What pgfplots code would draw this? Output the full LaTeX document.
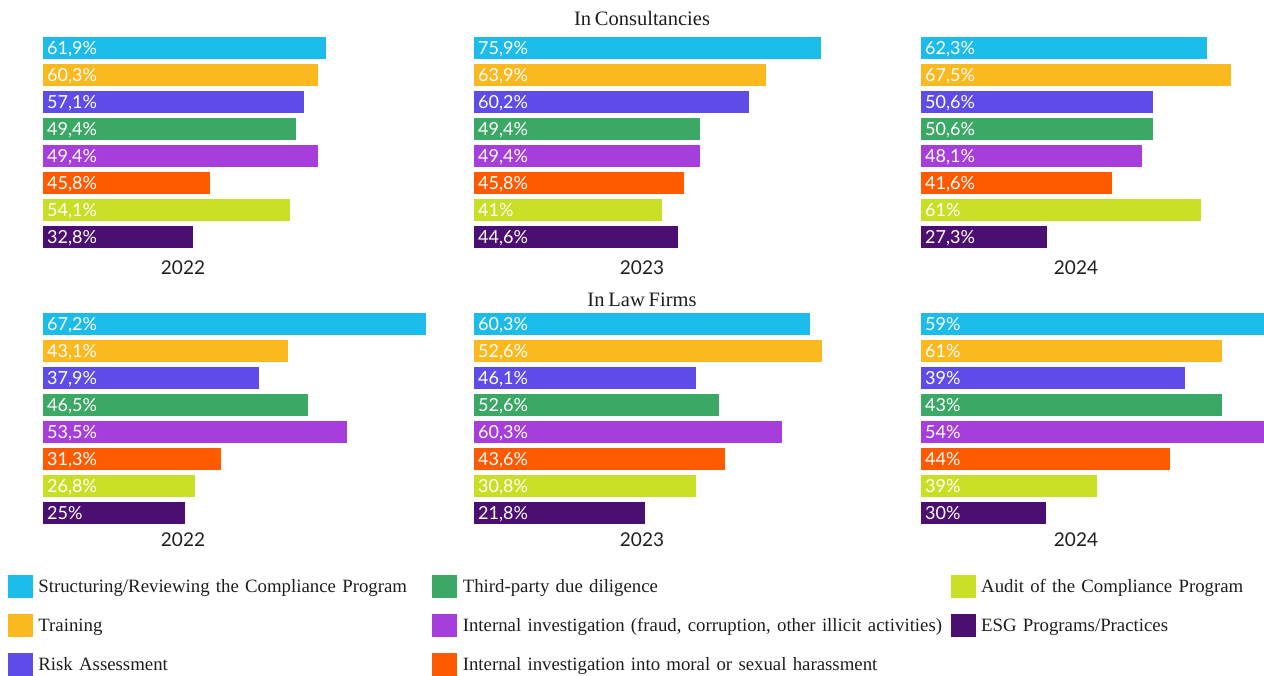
\documentclass[border=0pt]{standalone}
\usepackage{pgfplots}
\pgfplotsset{compat=1.18}
\usepackage{pgfplotstable}
\usepackage{fontspec}
\setmainfont{Liberation Serif}[WordSpace=0.75]
\newfontfamily\lato{Lato}

\definecolor{c0}{HTML}{1CBCEA}
\definecolor{c1}{HTML}{FBB81F}
\definecolor{c2}{HTML}{5F4BE8}
\definecolor{c3}{HTML}{3BA866}
\definecolor{c4}{HTML}{A53EDB}
\definecolor{c5}{HTML}{FF5A00}
\definecolor{c6}{HTML}{C8DF26}
\definecolor{c7}{HTML}{4A0F70}
\definecolor{txt}{HTML}{1E1E1E}

% len = drawn bar length (px), label = printed value
\pgfplotstableread{
cat len label
0 283 61,9
1 275 60,3
2 261 57,1
3 253 49,4
4 275 49,4
5 167 45,8
6 247 54,1
7 150 32,8
}\consA
\pgfplotstableread{
cat len label
0 347 75,9
1 292 63,9
2 275 60,2
3 226 49,4
4 226 49,4
5 210 45,8
6 188 41
7 204 44,6
}\consB
\pgfplotstableread{
cat len label
0 286 62,3
1 310 67,5
2 232 50,6
3 232 50,6
4 221 48,1
5 191 41,6
6 280 61
7 126 27,3
}\consC
\pgfplotstableread{
cat len label
0 383 67,2
1 245 43,1
2 216 37,9
3 265 46,5
4 304 53,5
5 178 31,3
6 152 26,8
7 142 25
}\lawA
\pgfplotstableread{
cat len label
0 336 60,3
1 348 52,6
2 222 46,1
3 245 52,6
4 308 60,3
5 251 43,6
6 222 30,8
7 171 21,8
}\lawB
\pgfplotstableread{
cat len label
0 343 59
1 301 61
2 264 39
3 301 43
4 343 54
5 249 44
6 176 39
7 125 30
}\lawC

% #1 table, #2 left, #3 top, #4 width
\newcommand{\panel}[4]{%
\begin{axis}[at={(#2pt,-#3pt)}, anchor=north west, scale only axis,
  width=#4pt, height=216pt, xmin=0, xmax=#4, ymin=-0.5, ymax=7.5,
  y dir=reverse, hide axis, clip=false]
\pgfplotsinvokeforeach{0,...,7}{
  \addplot[xbar, bar shift=0pt, bar width=22pt, draw=none, fill=c##1]
    table[x=len, y=cat, restrict y to domain=##1:##1] {#1};
}
\addplot[draw=none, nodes near coords={\pgfplotspointmeta\%},
  point meta=explicit symbolic,
  nodes near coords style={anchor=west, inner sep=0pt, xshift=4pt, text=white,
    font=\lato\fontsize{18}{20}\selectfont, text height=13pt, text depth=0pt}]
  table[x expr=0, y=cat, meta=label] {#1};
\end{axis}}

\begin{document}
\begin{tikzpicture}
\path[use as bounding box] (0,0) rectangle (1264pt,-675pt);

\panel{\consA}{43}{34.5}{390}
\panel{\consB}{474}{34.5}{390}
\panel{\consC}{921}{34.5}{343}
\panel{\lawA}{43}{310.5}{390}
\panel{\lawB}{474}{310.5}{390}
\panel{\lawC}{921}{310.5}{343}

\begin{scope}[every node/.style={text=txt, anchor=base}]
\node[font=\fontsize{20.5}{24}\selectfont] at (642pt,-25pt) {In Consultancies};
\node[font=\fontsize{20.5}{24}\selectfont] at (642pt,-306pt) {In Law Firms};
\foreach \x/\yr in {183/2022, 642/2023, 1076/2024} {
  \node[font=\lato\fontsize{19}{22}\selectfont] at (\x pt,-274pt) {\yr};
  \node[font=\lato\fontsize{19}{22}\selectfont] at (\x pt,-546pt) {\yr};
}
\end{scope}

\begin{axis}[at={(8pt,-575pt)}, anchor=north west, hide axis, scale only axis,
  width=10pt, height=10pt, xmin=0, xmax=1, ymin=0, ymax=1,
  legend columns=3, legend cell align=left,
  legend image code/.code={\fill[#1] (0pt,-11pt) rectangle (24pt,11pt); \path (30pt,0pt);},
  legend style={at={(0,1)}, anchor=north west, draw=none, fill=none,
    inner sep=0pt, outer sep=0pt, row sep=16.5pt, column sep=0pt,
    nodes={inner sep=0pt, text=txt, font=\fontsize{18.8}{22}\selectfont,
      text height=12.6pt, text depth=0pt},
    /tikz/column 2/.style={text width=394pt, align=left},
    /tikz/column 4/.style={text width=488pt, align=left},
    /tikz/column 6/.style={text width=270pt, align=left}}]
\addlegendimage{c0}\addlegendentry{Structuring/Reviewing the Compliance Program}
\addlegendimage{c3}\addlegendentry{Third-party due diligence}
\addlegendimage{c6}\addlegendentry{Audit of the Compliance Program}
\addlegendimage{c1}\addlegendentry{Training}
\addlegendimage{c4}\addlegendentry{Internal investigation (fraud, corruption, other illicit activities)}
\addlegendimage{c7}\addlegendentry{ESG Programs/Practices}
\addlegendimage{c2}\addlegendentry{Risk Assessment}
\addlegendimage{c5}\addlegendentry{Internal investigation into moral or sexual harassment}
\end{axis}
\end{tikzpicture}
\end{document}
